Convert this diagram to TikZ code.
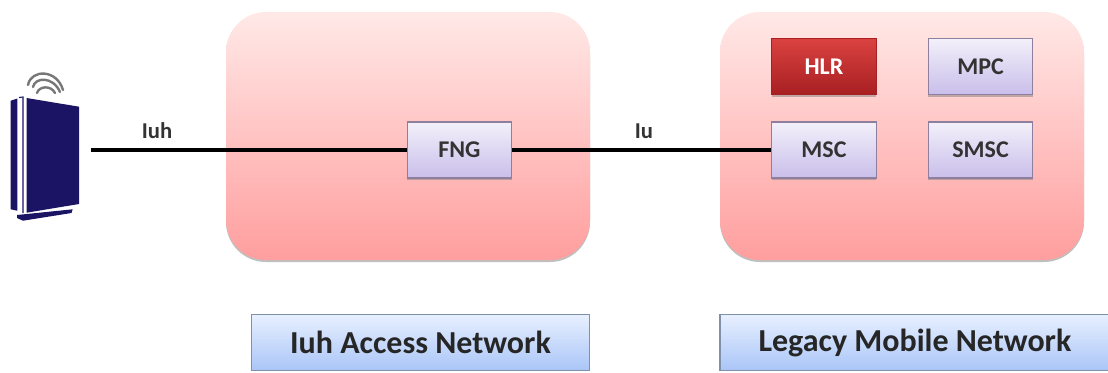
\documentclass[tikz,border=0pt]{standalone}
\usepackage{fontspec}
\setmainfont{Carlito}
\usetikzlibrary{positioning,shadows}

\definecolor{cloudtop}{HTML}{FFE9E7}
\definecolor{cloudbot}{HTML}{FF9E9E}
\definecolor{boxtop}{HTML}{F3F0FA}
\definecolor{boxbot}{HTML}{C9BEEA}
\definecolor{boxline}{HTML}{8F7F9F}
\definecolor{hlrtop}{HTML}{DA4240}
\definecolor{hlrbot}{HTML}{A81F22}
\definecolor{captop}{HTML}{E8F0FF}
\definecolor{capbot}{HTML}{A9C5F7}
\definecolor{capline}{HTML}{7F90A8}
\definecolor{devblue}{HTML}{1B1464}
\definecolor{wavegray}{HTML}{777777}

\begin{document}
\begin{tikzpicture}[x=0.75pt, y=-0.75pt,
    node distance=19.7pt and 38pt,
    cloud/.style={rectangle, rounded corners=30pt, top color=cloudtop, bottom color=cloudbot, minimum width=273pt, minimum height=186pt, inner sep=0pt, drop shadow={shadow xshift=0pt, shadow yshift=-1.5pt, opacity=0.5}},
    block/.style={rectangle, draw=boxline, line width=0.9pt, top color=boxtop, bottom color=boxbot, minimum width=78.5pt, minimum height=42pt, inner sep=0pt, font=\fontsize{18}{20}\selectfont\bfseries, text=black!80, drop shadow={shadow xshift=0pt, shadow yshift=-1.5pt, opacity=0.5}},
    redblock/.style={block, draw=hlrbot, top color=hlrtop, bottom color=hlrbot, text=white},
    caption/.style={rectangle, draw=capline, line width=0.8pt, top color=captop, bottom color=capbot, minimum height=42.5pt, inner sep=0pt, font=\fontsize{24}{28}\selectfont\bfseries, text=black!85},
    link/.style={line width=3pt, black},
    linklabel/.style={font=\fontsize{17}{19}\selectfont\bfseries, text=black!80},
    device/.style={fill=devblue, draw=none},
    wave/.style={draw=wavegray, line width=1.8pt, line cap=round}]

    \useasboundingbox (0,0) rectangle (1108,372);

    % Network areas
    \node [cloud] (access_net) at (408,136) {};
    \node [cloud] (legacy_net) at (902,136) {};

    % Core nodes
    \node [redblock] (hlr) at (824,66.5) {HLR};
    \node [block, right=of hlr] (mpc) {MPC};
    \node [block, below=of hlr] (msc) {MSC};
    \node [block, below=of mpc] (smsc) {SMSC};
    \node [block, left=194pt of msc] (fng) {FNG};

    % Captions
    \node [caption, minimum width=254pt] (access_cap) at (420.5,342.5) {Iuh Access Network};
    \node [caption, minimum width=292.5pt] (legacy_cap) at (915,342.5) {Legacy Mobile Network};

    % Femto device
    \fill [device] (26.7,98) -- (79,106.7) -- (79,204) -- (26.7,212.7) -- cycle;
    \fill [device] (10.7,100.7) -- (17.3,98.5) -- (17.3,210.7) -- (10.7,209.3) -- cycle;
    \draw [devblue, line width=0.8pt] (19,97.5) -- (23,97) -- (23,213);
    \fill [device] (17,215) -- (72.7,209.3) -- (71.5,213) -- (23,220.7) -- (17,218) -- cycle;
    \draw [wave] (37,93) .. controls (39,86) and (51,85) .. (55,93);
    \draw [wave] (33,87) .. controls (35,77) and (53,76) .. (60,92);
    \draw [wave] (28,85) .. controls (31,69) and (57,69) .. (63,90);

    % Connections
    \coordinate [left=237pt of fng] (device_port);
    \draw [link] (device_port) -- (fng.west);
    \draw [link] (fng.east) -- (msc.west);

    % Labels
    \node [linklabel] (iuh_label) at (157,131) {Iuh};
    \node [linklabel] (iu_label) at (644,131) {Iu};

\end{tikzpicture}
\end{document}
